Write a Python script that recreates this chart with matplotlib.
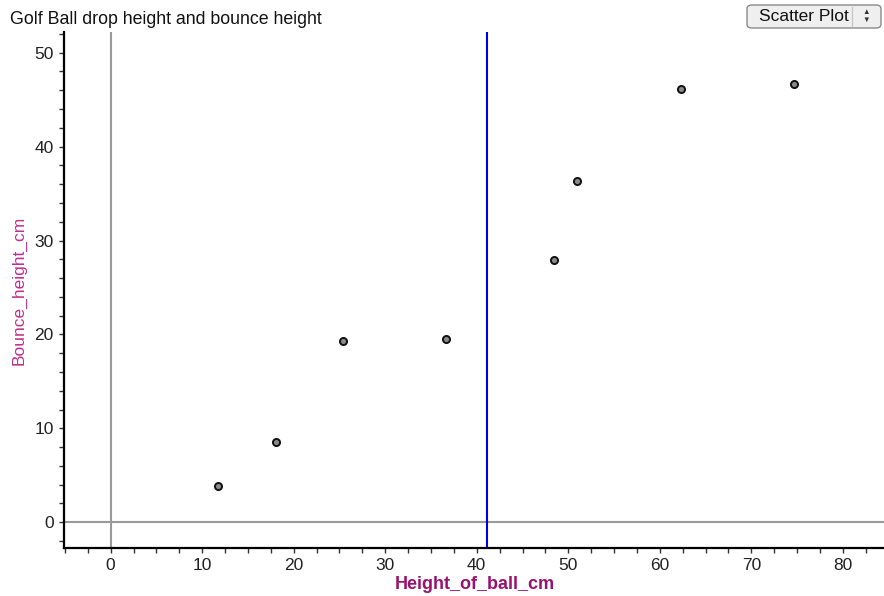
import matplotlib
matplotlib.use("Agg")
import matplotlib.pyplot as plt
from matplotlib.patches import FancyBboxPatch
from matplotlib.lines import Line2D
from matplotlib.ticker import MultipleLocator

plt.rcParams['font.family'] = ['Liberation Sans', 'DejaVu Sans']

drop_height = [11.7, 18.1, 25.4, 36.6, 48.4, 51.0, 62.3, 74.7]
bounce_height = [3.9, 8.5, 19.3, 19.5, 27.9, 36.3, 46.1, 46.7]
vline_x = 41.1
title = "Golf Ball drop height and bounce height"
xlabel = "Height_of_ball_cm"
ylabel = "Bounce_height_cm"

fig = plt.figure(figsize=(8.84, 5.96), dpi=100)
ax = fig.add_axes([64/884, 1-548/596, 1-64/884, (548-32)/596])
ax.set_xlim(-5.1, 84.5)
ax.set_ylim(-2.74, 52.2)

ax.axhline(0, color='#999999', lw=1.5, zorder=1)
ax.axvline(0, color='#999999', lw=1.5, zorder=1)
ax.axvline(vline_x, color='#0000DD', lw=1.5, zorder=2)

ax.scatter(drop_height, bounce_height, s=26, facecolor='#8a8a8a',
           edgecolor='#111111', linewidths=1.4, zorder=3)

for s in ['top', 'right']:
    ax.spines[s].set_visible(False)
for s in ['left', 'bottom']:
    ax.spines[s].set_linewidth(1.6)
    ax.spines[s].set_color('black')

ax.xaxis.set_major_locator(MultipleLocator(10))
ax.xaxis.set_minor_locator(MultipleLocator(2.5))
ax.yaxis.set_major_locator(MultipleLocator(10))
ax.yaxis.set_minor_locator(MultipleLocator(2))
ax.tick_params(which='both', direction='out', length=3.5, width=1.0, color='#333333')
ax.tick_params(which='major', labelsize=12.5, labelcolor='#222222', pad=4)

ax.set_xlabel(xlabel, color='#99136E', fontsize=13, fontweight='bold')
ax.xaxis.set_label_coords((475-64)/820, -(576-548)/516)
ax.set_ylabel(ylabel, color='#C0308E', fontsize=12.5)
ax.yaxis.set_label_coords(-(64-27)/820, (548-290)/516)

fig.text(10/884, 1-20/596, title, fontsize=12.8, color='#111111', va='center', ha='left')

# Scatter Plot button
btn = FancyBboxPatch((747/884, 1-28/596), 134/884, 23/596,
                     boxstyle="round,pad=0,rounding_size=0.006",
                     transform=fig.transFigure, facecolor='#efefef',
                     edgecolor='#8a8a8a', lw=1.0)
fig.patches.append(btn)
fig.lines.append(Line2D([852/884, 852/884], [1-26/596, 1-7/596], transform=fig.transFigure,
                        color='#c8c8c8', lw=1.0))
fig.text(804/884, 1-16.5/596, "Scatter Plot", fontsize=12.5, color='#111111',
         va='center', ha='center')
fig.text(866/884, 1-12.5/596, "\u25B2", fontsize=5.5, color='#333333', va='center', ha='center')
fig.text(866/884, 1-20/596, "\u25BC", fontsize=5.5, color='#333333', va='center', ha='center')

fig.savefig("out.png", dpi=100)
